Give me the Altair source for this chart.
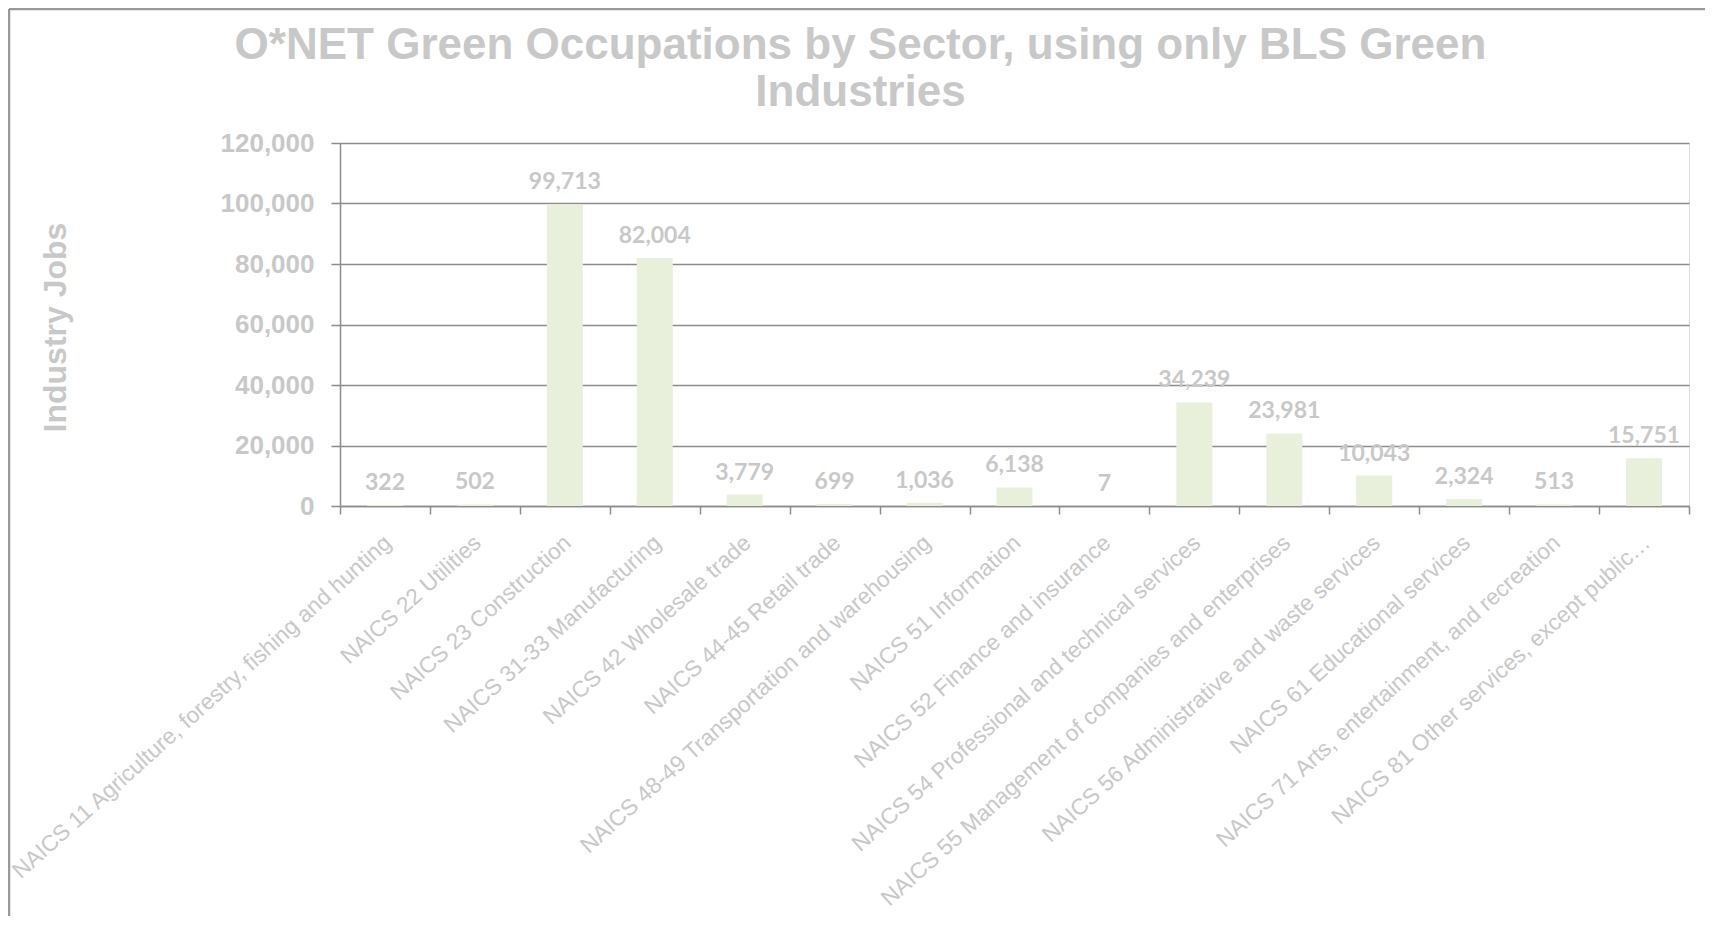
import altair as alt
import pandas as pd

categories = [
    "NAICS 11 Agriculture, forestry, fishing and hunting",
    "NAICS 22 Utilities",
    "NAICS 23 Construction",
    "NAICS 31-33 Manufacturing",
    "NAICS 42 Wholesale trade",
    "NAICS 44-45 Retail trade",
    "NAICS 48-49 Transportation and warehousing",
    "NAICS 51 Information",
    "NAICS 52 Finance and insurance",
    "NAICS 54 Professional and technical services",
    "NAICS 55 Management of companies and enterprises",
    "NAICS 56 Administrative and waste services",
    "NAICS 61 Educational services",
    "NAICS 71 Arts, entertainment, and recreation",
    "NAICS 81 Other services, except public\u2026",
]
jobs = [322, 502, 99713, 82004, 3779, 699, 1036, 6138, 7, 34239, 23981, 10043, 2324, 513, 15751]

title_lines = ["O*NET Green Occupations by Sector, using only BLS Green", "Industries"]
y_title = "Industry Jobs"

df = pd.DataFrame({"sector": categories, "jobs": jobs})

TEXT = "#c8c8c8"
LINE = "#8c8c8c"
BAR = "#e8efdb"

x_enc = alt.X(
    "sector:N",
    sort=categories,
    title=None,
    scale=alt.Scale(paddingInner=0, paddingOuter=0),
    axis=alt.Axis(
        labelAngle=-42,
        labelAlign="right",
        labelBaseline="top",
        labelFont="Liberation Sans",
        labelFontSize=22.6,
        labelColor="#c8c8c8",
        labelPadding=17,
        labelOffset=-5,
        labelLimit=1000,
        labelOverlap=False,
        tickBand="extent",
        tickSize=8,
        tickColor=LINE,
        tickWidth=1.5,
        domainColor=LINE,
        domainWidth=1.5,
    ),
)

y_enc = alt.Y(
    "jobs:Q",
    scale=alt.Scale(domain=[0, 120000]),
    axis=alt.Axis(
        values=[0, 20000, 40000, 60000, 80000, 100000, 120000],
        format=",d",
        title=y_title,
        titleFont="Liberation Sans",
        titleFontSize=32,
        titleFontWeight="bold",
        titleColor=TEXT,
        titleAngle=270,
        titleAlign="center",
        titleBaseline="middle",
        titleX=-285,
        titleY=184,
        labelFont="Liberation Sans",
        labelFontSize=26,
        labelFontWeight="bold",
        labelColor=TEXT,
        labelPadding=17,
        tickSize=9,
        tickColor=LINE,
        tickWidth=1.5,
        domainColor=LINE,
        domainWidth=1.5,
        grid=True,
        gridColor=LINE,
        gridWidth=1.5,
    ),
)

bars = alt.Chart(df).mark_bar(color=BAR, width=alt.RelativeBandSize(0.4)).encode(x=x_enc, y=y_enc)

labels = alt.Chart(df).mark_text(
    font="Lato",
    fontSize=23,
    fontWeight="bold",
    color=TEXT,
    baseline="middle",
    dy=-22,
).encode(
    x=alt.X("sector:N", sort=categories),
    y=alt.Y("jobs:Q"),
    text=alt.Text("jobs:Q", format=",d"),
)

frame_df = pd.DataFrame({"k": [0]})
frame_left = alt.Chart(frame_df).mark_rule(color="#999999", strokeWidth=2.5).encode(
    x=alt.value(-331), y=alt.value(-134), y2=alt.value(800)
)
frame_top = alt.Chart(frame_df).mark_rule(color="#999999", strokeWidth=2.5).encode(
    x=alt.value(-331), x2=alt.value(1400), y=alt.value(-134)
)

chart = (
    alt.layer(bars, labels, frame_left, frame_top)
    .properties(
        width=1349,
        height=363,
        title=alt.TitleParams(
            text=title_lines,
            font="Liberation Sans",
            fontSize=44,
            fontWeight="bold",
            color=TEXT,
            lineHeight=47,
            anchor="middle",
            frame="group",
            dx=-154,
            dy=107,
            offset=0,
        ),
        autosize=alt.AutoSizeParams(type="none"),
        padding={"left": 332, "top": 135, "right": 16, "bottom": 410},
    )
    .configure_view(stroke=None)
    .configure(background="white")
)

chart.save("out.html", embed_options={"renderer": "svg", "actions": False})
